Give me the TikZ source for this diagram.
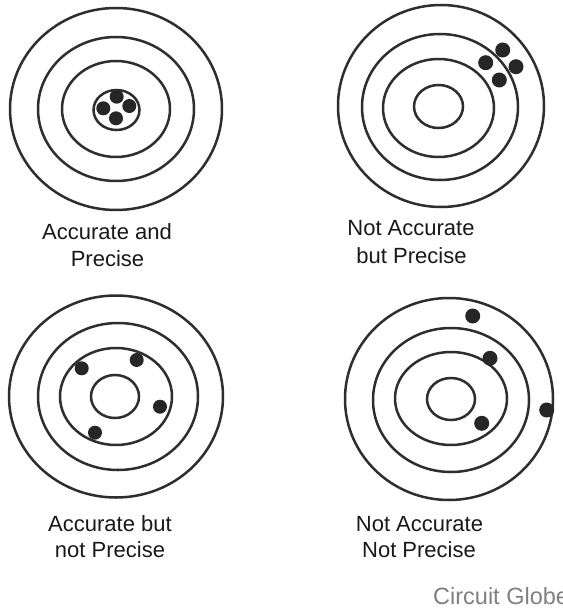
\documentclass[tikz,border=0pt]{standalone}
\usepackage{fontspec}
\setmainfont{Liberation Sans}
\definecolor{ring}{HTML}{2E2E2E}
\definecolor{dotc}{HTML}{262626}
\definecolor{wm}{HTML}{808080}
\tikzset{
  ringline/.style={draw=ring, line width=2.5pt},
  hit/.style={fill=dotc},
  lbl/.style={anchor=base, inner sep=0pt, font=\fontsize{22}{26}\selectfont, text=black!90},
}
\begin{document}
\begin{tikzpicture}[x=1pt,y=-1pt]
\fill[white] (0,0) rectangle (562,610);
\useasboundingbox (0,0) rectangle (562,610);
% Target 1: accurate and precise
\draw[ringline] (116,109) ellipse [x radius=106, y radius=101];
\draw[ringline] (116,109) ellipse [x radius=78, y radius=72];
\draw[ringline] (116,109) ellipse [x radius=54, y radius=48];
\draw[ringline] (116.5,110) ellipse [x radius=23, y radius=20];
\fill[hit] (116.7,96.7) circle (7);
\fill[hit] (103.3,108.3) circle (7);
\fill[hit] (129.3,106) circle (7);
\fill[hit] (116,118.3) circle (7);
% Target 2: not accurate but precise
\draw[ringline] (441,106) ellipse [x radius=103, y radius=101];
\draw[ringline] (440,107) ellipse [x radius=78, y radius=73];
\draw[ringline] (438.5,108) ellipse [x radius=55.5, y radius=49];
\draw[ringline] (438.5,106.5) ellipse [x radius=24.5, y radius=21.5];
\fill[hit] (502.7,50) circle (7.5);
\fill[hit] (485.7,62.7) circle (7.5);
\fill[hit] (516,66.7) circle (7.5);
\fill[hit] (499.3,80) circle (7.5);
% Target 3: accurate but not precise
\draw[ringline] (116,396.5) ellipse [x radius=107, y radius=101];
\draw[ringline] (118,396.5) ellipse [x radius=80, y radius=73.5];
\draw[ringline] (116,396.5) ellipse [x radius=56, y radius=48.5];
\draw[ringline] (115,396.5) ellipse [x radius=24, y radius=21.5];
\fill[hit] (81.7,368.3) circle (7);
\fill[hit] (136.7,360) circle (7);
\fill[hit] (160,406.7) circle (7);
\fill[hit] (95,432.7) circle (7);
% Target 4: not accurate not precise
\draw[ringline] (449,399) ellipse [x radius=104, y radius=101];
\draw[ringline] (451,400) ellipse [x radius=78, y radius=72];
\draw[ringline] (451,398.5) ellipse [x radius=56, y radius=46.5];
\draw[ringline] (451,399) ellipse [x radius=24, y radius=21];
\fill[hit] (472.7,316) circle (7.5);
\fill[hit] (490,358.3) circle (7.5);
\fill[hit] (546.7,410) circle (7.5);
\fill[hit] (481.7,423.3) circle (7.5);
% Labels
\node[lbl] (l1a) at (107,239) {Accurate and};
\node[lbl] (l1b) at (107.5,266.5) {Precise};
\node[lbl] (l2a) at (411,235) {Not Accurate};
\node[lbl] (l2b) at (411.5,263) {but Precise};
\node[lbl] (l3a) at (110,531.7) {Accurate but};
\node[lbl] (l3b) at (110,557.5) {not Precise};
\node[lbl] (l4a) at (419.5,531.7) {Not Accurate};
\node[lbl] (l4b) at (419,557.5) {Not Precise};
\node[anchor=base west, inner sep=0pt, font=\fontsize{23.5}{27}\selectfont, text=wm] (wmk) at (433,604) {Circuit Globe};
\end{tikzpicture}
\end{document}
